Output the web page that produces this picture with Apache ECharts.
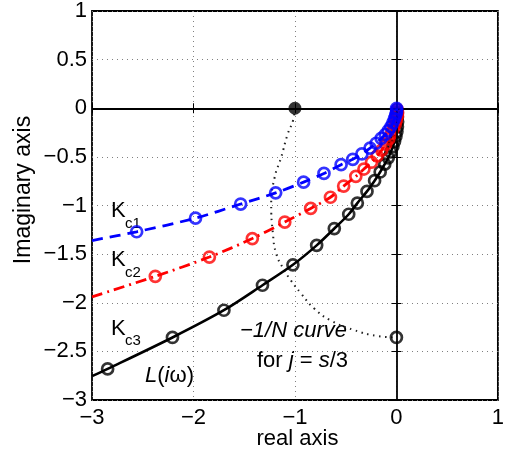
<!DOCTYPE html>
<html><head><meta charset="utf-8">
<script src="https://cdn.jsdelivr.net/npm/echarts@6/dist/echarts.min.js"></script>
<style>html,body{margin:0;padding:0;background:#fff}#c{width:507px;height:456px}</style>
</head><body><div id="c"></div>
<script>
// axis ranges / ticks
const xRange = [-3, 1];
const yRange = [-3, 1];
const xStep = 1;
const yStep = 0.5;

// K_c1 (blue, dashed)
const kc1Line = [[-3,-1.36],[-2.56,-1.27],[-1.98,-1.13],[-1.535,-0.985],[-1.19,-0.87],[-0.915,-0.76],[-0.714,-0.67],[-0.545,-0.58],[-0.43,-0.525],[-0.34,-0.47],[-0.26,-0.41],[-0.20,-0.36],[-0.15,-0.31],[-0.11,-0.27],[-0.08,-0.23],[-0.055,-0.19],[-0.035,-0.15],[-0.02,-0.11],[-0.008,-0.075],[0,-0.045],[0.003,-0.02],[0.002,0]];
const kc1Markers = [[-2.56,-1.27],[-1.98,-1.13],[-1.535,-0.985],[-1.19,-0.87],[-0.915,-0.76],[-0.714,-0.67],[-0.545,-0.58],[-0.43,-0.525],[-0.34,-0.47],[-0.26,-0.41],[-0.20,-0.36],[-0.15,-0.31],[-0.11,-0.27],[-0.08,-0.23],[-0.055,-0.19],[-0.035,-0.15],[-0.02,-0.11],[-0.008,-0.075],[0,-0.045],[0.003,-0.02],[0.002,0]];

// K_c2 (red, dash-dot)
const kc2Line = [[-3,-1.94],[-2.376,-1.728],[-1.843,-1.53],[-1.42,-1.34],[-1.10,-1.17],[-0.845,-1.03],[-0.65,-0.915],[-0.52,-0.80],[-0.40,-0.70],[-0.32,-0.625],[-0.245,-0.555],[-0.19,-0.49],[-0.145,-0.43],[-0.105,-0.37],[-0.075,-0.315],[-0.05,-0.26],[-0.03,-0.21],[-0.012,-0.165],[0,-0.12],[0.01,-0.08],[0.012,-0.045],[0.008,-0.015],[0,0]];
const kc2Markers = [[-2.376,-1.728],[-1.843,-1.53],[-1.42,-1.34],[-1.10,-1.17],[-0.845,-1.03],[-0.65,-0.915],[-0.52,-0.80],[-0.40,-0.70],[-0.32,-0.625],[-0.245,-0.555],[-0.19,-0.49],[-0.145,-0.43],[-0.105,-0.37],[-0.075,-0.315],[-0.05,-0.26],[-0.03,-0.21],[-0.012,-0.165],[0,-0.12],[0.01,-0.08],[0.012,-0.045],[0.008,-0.015]];

// K_c3 = L(iw) (black, solid)
const kc3Line = [[-3,-2.754],[-2.846,-2.68],[-2.207,-2.357],[-1.70,-2.077],[-1.32,-1.82],[-1.02,-1.61],[-0.786,-1.41],[-0.612,-1.237],[-0.47,-1.09],[-0.385,-0.975],[-0.29,-0.855],[-0.215,-0.745],[-0.16,-0.655],[-0.115,-0.575],[-0.08,-0.51],[-0.055,-0.45],[-0.035,-0.395],[-0.018,-0.34],[-0.005,-0.29],[0.005,-0.24],[0.01,-0.19],[0.012,-0.14],[0.01,-0.09],[0.006,-0.05],[0,0]];
const kc3Markers = [[-2.846,-2.68],[-2.207,-2.357],[-1.70,-2.077],[-1.32,-1.82],[-1.02,-1.61],[-0.786,-1.41],[-0.612,-1.237],[-0.47,-1.09],[-0.385,-0.975],[-0.29,-0.855],[-0.215,-0.745],[-0.16,-0.655],[-0.115,-0.575],[-0.08,-0.51],[-0.055,-0.45],[-0.035,-0.395],[-0.018,-0.34],[-0.005,-0.29],[0.005,-0.24],[0.01,-0.19],[0.012,-0.14],[0.01,-0.09],[0.006,-0.05]];

// -1/N curve (dotted)
const nCurve = [[-1,0],[-1.02,-0.13],[-1.07,-0.26],[-1.136,-0.505],[-1.20,-0.71],[-1.234,-0.98],[-1.217,-1.29],[-1.185,-1.495],[-1.12,-1.64],[-1.04,-1.77],[-0.94,-1.905],[-0.81,-2.06],[-0.65,-2.18],[-0.42,-2.28],[-0.195,-2.34],[0,-2.357]];
const nStart = [[-1,0]];
const nEnd = [[0,-2.357]];

const FONT = 'Liberation Sans, Arial, Helvetica, sans-serif';
const fmt = v => String(v).replace('-', '\u2212');

const chart = echarts.init(document.getElementById('c'), null, {renderer:'canvas'});

const tickStyle = {show:true, inside:true, length:5, lineStyle:{color:'#000', width:1}};
const option = {
  animation: false,
  backgroundColor: '#fff',
  grid: {left:92, right:4, top:10, bottom:56, show:true, borderColor:'#000', borderWidth:1.8, backgroundColor:'transparent'},
  xAxis: [{
    type:'value', min:xRange[0], max:xRange[1], interval:xStep,
    axisLine:{show:false},
    axisTick: tickStyle,
    splitLine:{show:true, lineStyle:{color:'#808080', width:1, type:[1,4]}},
    axisLabel:{formatter:fmt, fontSize:22, color:'#000', margin:7, fontFamily:FONT}
  },{
    type:'value', position:'top', min:xRange[0], max:xRange[1], interval:xStep,
    axisLine:{show:false}, axisTick: tickStyle, splitLine:{show:false}, axisLabel:{show:false}
  }],
  yAxis: [{
    type:'value', min:yRange[0], max:yRange[1], interval:yStep,
    axisLine:{show:false},
    axisTick: tickStyle,
    splitLine:{show:true, lineStyle:{color:'#808080', width:1, type:[1,4]}},
    axisLabel:{formatter:fmt, fontSize:22, color:'#000', margin:5, fontFamily:FONT}
  },{
    type:'value', position:'right', min:yRange[0], max:yRange[1], interval:yStep,
    axisLine:{show:false}, axisTick: tickStyle, splitLine:{show:false}, axisLabel:{show:false}
  }],
  series: [
    {type:'line', data:[], z:1, silent:true,
     markLine:{silent:true, symbol:['none','none'], label:{show:false},
       lineStyle:{color:'#000', width:1.8, type:'solid'},
       data:[{xAxis:0},{yAxis:0}]}},
    {type:'line', data:nCurve, smooth:true, showSymbol:false, z:2,
     lineStyle:{color:'#222', width:2, type:[1.5,4.5]}},
    {type:'line', data:kc3Line, showSymbol:false, z:3, smooth:0.3,
     lineStyle:{color:'#000', width:2.6}},
    {type:'scatter', data:kc3Markers, symbol:'circle', symbolSize:11, z:3,
     itemStyle:{color:'rgba(0,0,0,0)', borderColor:'#000', borderWidth:2.7}},
    {type:'line', data:kc2Line, showSymbol:false, z:4, smooth:0.3,
     lineStyle:{color:'#ff0000', width:2.8, type:[11,5,2,5]}},
    {type:'scatter', data:kc2Markers, symbol:'circle', symbolSize:11, z:4,
     itemStyle:{color:'rgba(0,0,0,0)', borderColor:'#ff0000', borderWidth:2.7}},
    {type:'line', data:kc1Line, showSymbol:false, z:5, smooth:0.3,
     lineStyle:{color:'#0000ff', width:2.8, type:[11,7]}},
    {type:'scatter', data:kc1Markers, symbol:'circle', symbolSize:11, z:5,
     itemStyle:{color:'rgba(0,0,0,0)', borderColor:'#0000ff', borderWidth:2.7}},
    {type:'scatter', data:nStart, symbol:'circle', symbolSize:13, z:6,
     itemStyle:{color:'#000'}},
    {type:'scatter', data:nEnd, symbol:'circle', symbolSize:11, z:6,
     itemStyle:{color:'rgba(0,0,0,0)', borderColor:'#000', borderWidth:2.7}}
  ],
  graphic: [
    {type:'text', x:24, y:190, rotation:Math.PI/2, style:{text:'Imaginary axis', font:'23px '+FONT, fill:'#000', align:'center', verticalAlign:'middle'}},
    {type:'text', x:297.5, y:439, style:{text:'real axis', font:'22px '+FONT, fill:'#000', align:'center', verticalAlign:'middle'}},
    {type:'text', x:111, y:210.5, style:{text:'K', font:'22px '+FONT, fill:'#000', align:'left', verticalAlign:'middle'}},
    {type:'text', x:125, y:224, style:{text:'c1', font:'15px '+FONT, fill:'#000', align:'left', verticalAlign:'middle'}},
    {type:'text', x:111, y:259.5, style:{text:'K', font:'22px '+FONT, fill:'#000', align:'left', verticalAlign:'middle'}},
    {type:'text', x:125, y:273, style:{text:'c2', font:'15px '+FONT, fill:'#000', align:'left', verticalAlign:'middle'}},
    {type:'text', x:111, y:329, style:{text:'K', font:'22px '+FONT, fill:'#000', align:'left', verticalAlign:'middle'}},
    {type:'text', x:125, y:341, style:{text:'c3', font:'15px '+FONT, fill:'#000', align:'left', verticalAlign:'middle'}},
    {type:'text', x:145, y:376, style:{text:'{i|L}({i|i}ω)', font:'22px '+FONT, fill:'#000', align:'left', verticalAlign:'middle',
      rich:{i:{fontStyle:'italic', fontSize:22, fontFamily:FONT, fill:'#000'}}}},
    {type:'text', x:240, y:331, style:{text:'\u22121/N curve', font:'italic 22px '+FONT, fill:'#000', align:'left', verticalAlign:'middle'}},
    {type:'text', x:257, y:361, style:{text:'for {i|j} = {i|s}/3', font:'22px '+FONT, fill:'#000', align:'left', verticalAlign:'middle',
      rich:{i:{fontStyle:'italic', fontSize:22, fontFamily:FONT, fill:'#000'}}}}
  ]
};
chart.setOption(option);
</script>
</body></html>
